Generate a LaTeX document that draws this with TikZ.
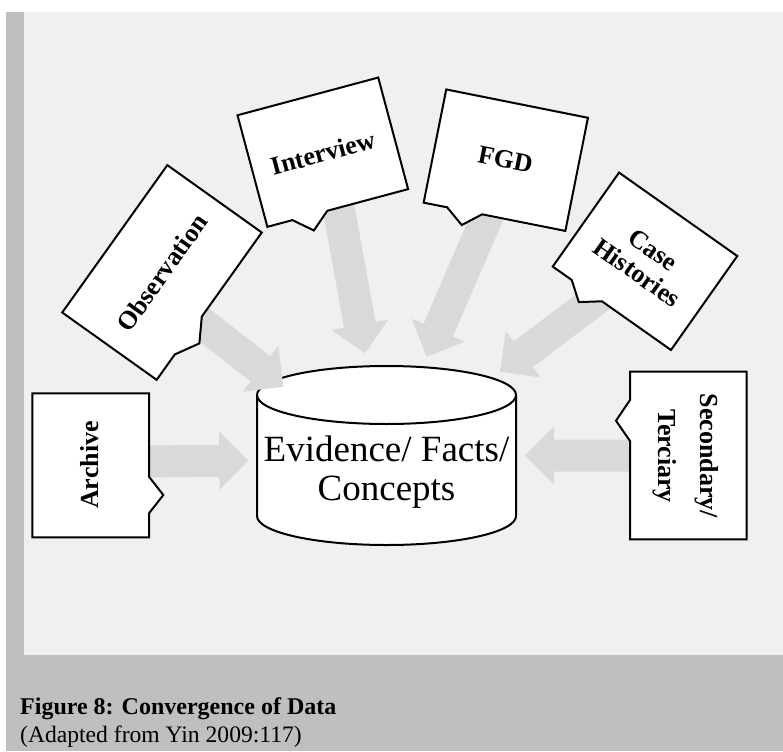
\documentclass[tikz,border=0pt]{standalone}
\usepackage{fontspec}
\setmainfont{Liberation Serif}
\usetikzlibrary{calc}
\definecolor{panelbg}{HTML}{F0F0F0}
\definecolor{framegray}{HTML}{BFBFBF}
\definecolor{arrowfill}{HTML}{D9D9D9}

% broad grey block arrow from tail coordinate #1 to tip coordinate #2
\newcommand\blockarrow[2]{%
  \path ($(#2)!29pt!(#1)$) coordinate (#2-neck);
  \fill[arrowfill] ($(#1)!16pt!90:(#2)$) -- ($(#2-neck)!16pt!-90:(#1)$)
    -- ($(#2-neck)!29pt!-90:(#1)$) -- (#2) -- ($(#2-neck)!29pt!90:(#1)$)
    -- ($(#2-neck)!16pt!90:(#1)$) -- ($(#1)!16pt!-90:(#2)$) -- cycle;}

\begin{document}
\begin{tikzpicture}[x=1pt,y=1pt,
  outline/.style={draw=black, line width=2pt, line join=miter, fill=white},
  boxlabel/.style={inner sep=0pt, align=center,
    font=\bfseries\fontsize{26}{28}\selectfont},
  biglabel/.style={inner sep=0pt, align=center,
    font=\fontsize{37}{38.5}\selectfont}]
\useasboundingbox (0,0) rectangle (783,-751);

% frame and panel
\fill[white] (0,0) rectangle (783,-751);
\fill[framegray] (6,-12) rectangle (783,-751);
\fill[panelbg] (24,-12) rectangle (783,-655);

% central store
\filldraw[outline] (257,-395) -- (257,-516)
  arc[start angle=180,end angle=360,x radius=129.5,y radius=29] -- (516,-395)
  arc[start angle=0,end angle=180,x radius=129.5,y radius=29] -- cycle;
\draw[line width=2pt] (257,-395)
  arc[start angle=180,end angle=360,x radius=129.5,y radius=29];
\node[biglabel] (evid) at (386.5,-472) {Evidence/ Facts/\\Concepts};

% arrow ends
\coordinate (arcT) at (145,-461.5);   \coordinate (arcH) at (248.3,-460.5);
\coordinate (obsT) at (184.8,-309.8); \coordinate (obsH) at (283.3,-386.7);
\coordinate (intT) at (336.4,-195.9); \coordinate (intH) at (365,-353.3);
\coordinate (fgdT) at (492.2,-205.2); \coordinate (fgdH) at (426.7,-356.7);
\coordinate (casT) at (603.9,-293.5); \coordinate (casH) at (500,-371.7);
\coordinate (secT) at (635,-455.5);   \coordinate (secH) at (525,-455.5);

\blockarrow{arcT}{arcH}
\blockarrow{obsT}{obsH}
\blockarrow{intT}{intH}
\blockarrow{fgdT}{fgdH}
\blockarrow{casT}{casH}
\blockarrow{secT}{secH}

% callout boxes
\begin{scope}[shift={(162,-272.5)}, rotate=54.5]
  \draw[outline] (-90.5,-58) -- (-59.3,-58) -- (-36,-71.6) -- (-12.8,-58)
    -- (90.5,-58) -- (90.5,58) -- (-90.5,58) -- cycle;
\end{scope}
\begin{scope}[shift={(322.8,-152.2)}, rotate=15]
  \draw[outline] (-72.85,-57.75) -- (-46.9,-57.75) -- (-28.9,-73.3) -- (-10.8,-57.75)
    -- (72.85,-57.75) -- (72.85,57.75) -- (-72.85,57.75) -- cycle;
\end{scope}
\begin{scope}[shift={(505.8,-160.2)}, rotate=-11.3]
  \draw[outline] (-72.25,-57.7) -- (-48.3,-57.7) -- (-30.5,-72.2) -- (-12.6,-57.7)
    -- (72.25,-57.7) -- (72.25,57.7) -- (-72.25,57.7) -- cycle;
\end{scope}
\begin{scope}[shift={(645,-261.3)}, rotate=-35.2]
  \draw[outline] (-72.35,-57.5) -- (-49.1,-57.5) -- (-30.6,-71.5) -- (-12.1,-57.5)
    -- (72.35,-57.5) -- (72.35,57.5) -- (-72.35,57.5) -- cycle;
\end{scope}
\draw[outline] (32.3,-393.3) -- (149,-393.3) -- (149,-476.7) -- (163.3,-495)
  -- (149,-513.3) -- (149,-537.3) -- (32.3,-537.3) -- cycle;
\draw[outline] (630,-371.7) -- (746.7,-371.7) -- (746.7,-539.3) -- (630,-539.3)
  -- (630,-441) -- (616,-420.7) -- (630,-400) -- cycle;

% box labels
\node[boxlabel, rotate=54.5] (obs) at (162,-272.5) {Observation};
\node[boxlabel, rotate=15] (int) at (322.8,-153) {Interview};
\node[boxlabel, rotate=-11.3] (fgd) at (505.5,-159.5) {FGD};
\node[boxlabel, rotate=-35.2] (cas) at (645,-261.5) {Case\\Histories};
\node[boxlabel, rotate=90] (arc) at (90,-465) {Archive};
\node[boxlabel, rotate=-90, font=\bfseries\fontsize{26}{42}\selectfont]
  (sec) at (686,-456) {Secondary/\\Terciary};

% caption
\node[anchor=base west, inner sep=0pt, font=\bfseries\fontsize{24}{26}\selectfont]
  (cap) at (20,-714) {Figure 8: Convergence of Data};
\node[anchor=base west, inner sep=0pt, font=\fontsize{23.6}{26}\selectfont]
  (src) at (20,-742) {(Adapted from Yin 2009:117)};
\end{tikzpicture}
\end{document}
